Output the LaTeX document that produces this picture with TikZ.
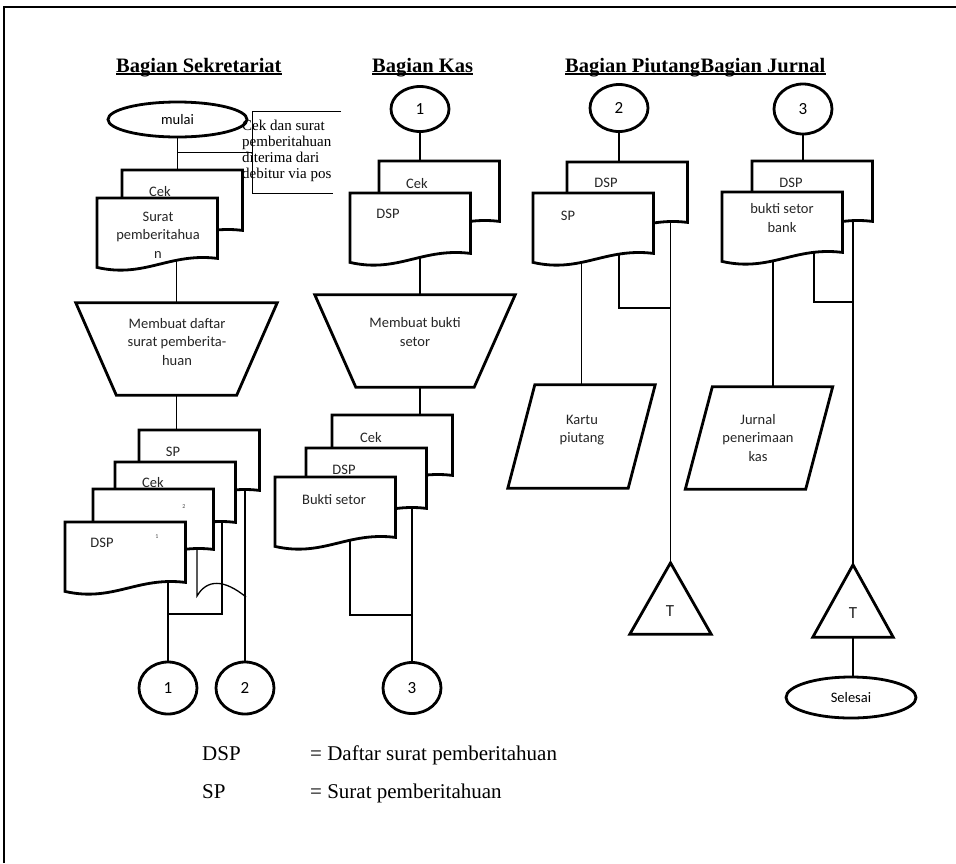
\documentclass[tikz,border=0pt]{standalone}
\usepackage{fontspec}
\setmainfont{Liberation Serif}
\newfontfamily\calfont{Carlito}
\usetikzlibrary{shapes.geometric,calc}
\pgfdeclarelayer{bg}
\pgfsetlayers{bg,main}
\tikzset{
 shapeline/.style={line width=2.8pt, fill=white, line join=miter},
 conn/.style={line width=1.3pt},
 docbox/.style={minimum width=120pt, minimum height=60pt, inner sep=0pt, anchor=north west, draw=none},
 boxnode/.style={draw=none, inner sep=0pt},
 lbl/.style={font=\calfont\fontsize{14.5}{18.5}\selectfont, inner sep=0pt, align=center, text=black!85},
 tiny/.style={font=\calfont\fontsize{6}{7}\selectfont, inner sep=0pt, text=black!70},
 conncircle/.style={ellipse, draw, line width=2.8pt, fill=white, minimum width=58pt, minimum height=47pt, inner sep=0pt, font=\calfont\fontsize{17}{18}\selectfont},
 term/.style={ellipse, draw, line width=2.8pt, fill=white, inner sep=0pt, font=\calfont\fontsize{14.5}{18}\selectfont},
 hdr/.style={font=\bfseries\fontsize{20.5}{24}\selectfont, inner sep=0pt, anchor=base west},
 leg/.style={font=\fontsize{21}{24}\selectfont, inner sep=0pt, anchor=base west},
}
\newcommand{\docdraw}[1]{\filldraw[shapeline] (#1.south east) -- (#1.north east) -- (#1.north west) -- ([yshift=-9pt]#1.south west) .. controls ([xshift=48pt,yshift=-20pt]#1.south west) and ([xshift=72pt,yshift=6pt]#1.south west) .. (#1.south east) -- cycle;}
\newcommand{\trapdraw}[2]{\filldraw[shapeline] (#1.north west) -- (#1.north east) -- ([xshift=-#2]#1.south east) -- ([xshift=#2]#1.south west) -- cycle;}
\newcommand{\paradraw}[1]{\filldraw[shapeline] ([xshift=13.5pt]#1.north west) -- ([xshift=13.5pt]#1.north east) -- ([xshift=-13.5pt]#1.south east) -- ([xshift=-13.5pt]#1.south west) -- cycle;}
\newcommand{\tridraw}[1]{\filldraw[shapeline] (#1.north) -- (#1.south east) -- (#1.south west) -- cycle;}
\begin{document}
\begin{tikzpicture}[x=1pt,y=-1pt]
\useasboundingbox (0,0) rectangle (956,863);
\draw[line width=2.5pt] (4,863) -- (4,7) -- (956,7);

% headers
\node[hdr] (h1) at (116,72) {Bagian Sekretariat};
\node[hdr] (h2) at (372,72) {Bagian Kas};
\node[hdr] (h3) at (565,72) {Bagian Piutang};
\node[hdr] (h4) at (h3.base east) {Bagian Jurnal};
\foreach \n in {h1,h2,h3,h4} \draw[line width=1.1pt] ([yshift=-2pt]\n.base west) -- ([yshift=-2pt]\n.base east);

% ---------------- Sekretariat
\node[term, minimum width=139pt, minimum height=35pt] (mulai) at (177.5,119.5) {mulai};
\node[boxnode, minimum width=88pt, minimum height=81pt] (anno) at (297,152.5) {};
\draw[conn, line width=1.1pt] (anno.north east) -- (anno.north west) -- (anno.south west) -- ([xshift=-8pt]anno.south east);
\node[font=\fontsize{15}{16}\selectfont, align=left, anchor=west, inner sep=0pt] (annot) at (242,151) {Cek dan surat\\pemberitahuan\\diterima dari\\debitur via pos};

\node[docbox] (skcek) at (122,170) {};
\node[docbox] (sksurat) at (97,198) {};
\docdraw{skcek}
\docdraw{sksurat}
\node[lbl] (l-skcek) at (160,192) {Cek};
\node[lbl] (l-sksurat) at (158,235) {Surat\\pemberitahua\\n};

\node[boxnode, minimum width=201pt, minimum height=92pt] (skm) at (176.5,349) {};
\trapdraw{skm}{40.5pt}
\node[lbl] (l-skm) at (177,342) {Membuat daftar\\surat pemberita-\\huan};

\node[docbox] (sksp) at (139,430) {};
\node[docbox] (skcek2) at (115,462) {};
\node[docbox] (sk3) at (93,489) {};
\node[docbox] (skdsp) at (65,522) {};
\docdraw{sksp}
\docdraw{skcek2}
\docdraw{sk3}
\docdraw{skdsp}
\node[lbl] (l-sksp) at (173,452) {SP};
\node[lbl] (l-skcek2) at (153,483) {Cek};
\node[tiny] (l-sk3) at (184,507) {2};
\node[lbl] (l-skdsp) at (102,543) {DSP};
\node[tiny] (l-skdsp1) at (157,537) {1};

\node[conncircle, minimum height=52pt] (o1a) at (168,688) {1};
\node[conncircle, minimum height=52pt] (o2a) at (245,688) {2};

% ---------------- Kas
\node[conncircle, minimum height=45pt] (o1b) at (420,109) {1};
\node[docbox] (kcek) at (379,161) {};
\node[docbox] (kdsp) at (350,193) {};
\docdraw{kcek}
\docdraw{kdsp}
\node[lbl] (l-kcek) at (417,184) {Cek};
\node[lbl] (l-kdsp) at (388,214) {DSP};

\node[boxnode, minimum width=200pt, minimum height=92pt] (ktrap) at (415,341) {};
\trapdraw{ktrap}{41pt}
\node[lbl] (l-ktrap) at (415,332) {Membuat bukti\\setor};

\node[docbox] (kcek2) at (332,415) {};
\node[docbox] (kdsp2) at (306,448) {};
\node[docbox] (kbs) at (275,477) {};
\docdraw{kcek2}
\docdraw{kdsp2}
\docdraw{kbs}
\node[lbl] (l-kcek2) at (371,438) {Cek};
\node[lbl] (l-kdsp2) at (344,470) {DSP};
\node[lbl] (l-kbs) at (334,500) {Bukti setor};

\node[conncircle, minimum height=51pt] (o3a) at (412,688) {3};

% ---------------- Piutang
\node[conncircle] (o2b) at (619,108) {2};
\node[docbox] (pdsp) at (567,162) {};
\node[docbox] (psp) at (533,193) {};
\docdraw{pdsp}
\docdraw{psp}
\node[lbl] (l-pdsp) at (606,183) {DSP};
\node[lbl] (l-psp) at (568,216) {SP};

\node[boxnode, minimum width=120pt, minimum height=103pt] (kartu) at (581.5,436.5) {};
\paradraw{kartu}
\node[lbl] (l-kartu) at (582,430) {Kartu\\piutang};

\node[boxnode, minimum width=81pt, minimum height=71pt] (ptri) at (670.5,598.5) {};
\tridraw{ptri}
\node[lbl, font=\calfont\fontsize{17}{18}\selectfont] (l-ptri) at (670,611) {T};

% ---------------- Jurnal
\node[conncircle, minimum height=50pt] (o3b) at (803,109) {3};
\node[docbox] (jdsp) at (752,161) {};
\node[docbox] (jbs) at (722,192) {};
\docdraw{jdsp}
\docdraw{jbs}
\node[lbl] (l-jdsp) at (791,183) {DSP};
\node[lbl] (l-jbs) at (782,218) {bukti setor\\bank};

\node[boxnode, minimum width=120pt, minimum height=102pt] (jkas) at (759,438) {};
\paradraw{jkas}
\node[lbl] (l-jkas) at (758,438) {Jurnal\\penerimaan\\kas};

\node[boxnode, minimum width=80pt, minimum height=72pt] (jtri) at (853,601) {};
\tridraw{jtri}
\node[lbl, font=\calfont\fontsize{17}{18}\selectfont] (l-jtri) at (853,613) {T};

\node[term, minimum width=130pt, minimum height=41pt] (selesai) at (851,697.5) {Selesai};

% legend
\node[leg] (g1) at (202,760) {DSP};
\node[leg] (g2) at (310,760) {= Daftar surat pemberitahuan};
\node[leg] (g3) at (202,798) {SP};
\node[leg] (g4) at (310,798) {= Surat pemberitahuan};

% ---------------- connectors
\coordinate (j1) at (168,614);
\coordinate (j1r) at (222,614);
\coordinate (w1) at (197,596);
\coordinate (w2) at (246,597);
\coordinate (j3) at (350,615);
\coordinate (jp) at (619,308);
\coordinate (jq) at (814,302);
\begin{pgfonlayer}{bg}
\draw[conn] (mulai.south) -- (mulai.south |- skcek.north);
\draw[conn] (mulai.south |- anno.west) -- (anno.west);
\draw[conn] (skm.north |- sksurat.south) -- (skm.north);
\draw[conn] (skm.south) -- (skm.south |- sksp.north);
\draw[conn] (o1a.north |- skdsp.south) -- (o1a.north);
\draw[conn] (j1r |- skcek2.south) -- (j1r) -- (j1);
\draw[conn] (w1 |- sk3.south) -- (w1) .. controls +(10,-17) and +(-22,-18) .. (w2);
\draw[conn] (o2a.north |- sksp.south) -- (o2a.north);

\draw[conn] (o1b.south) -- (o1b.south |- kcek.north);
\draw[conn] (o1b |- kdsp.south) -- (o1b |- ktrap.north);
\draw[conn] (o1b |- ktrap.south) -- (o1b |- kcek2.north);
\draw[conn] (o3a.north |- kdsp2.south) -- (o3a.north);
\draw[conn] (j3 |- kbs.south) -- (j3) -- (j3 -| o3a);

\draw[conn] (o2b.south) -- (o2b.south |- pdsp.north);
\draw[conn] (kartu.north |- psp.south) -- (kartu.north);
\draw[conn] (jp |- psp.south) -- (jp) -- (jp -| ptri.north);
\draw[conn] (ptri.north |- pdsp.south) -- (ptri.north);

\draw[conn] (o3b.south) -- (o3b.south |- jdsp.north);
\draw[conn] ([xshift=14pt]jkas.north |- jbs.south) -- ([xshift=14pt]jkas.north);
\draw[conn] (jq |- jbs.south) -- (jq) -- (jq -| jtri.north);
\draw[conn] (jtri.north |- jdsp.south) -- (jtri.north);
\draw[conn] (jtri.south) -- (jtri.south |- selesai.north);
\end{pgfonlayer}
\end{tikzpicture}
\end{document}
